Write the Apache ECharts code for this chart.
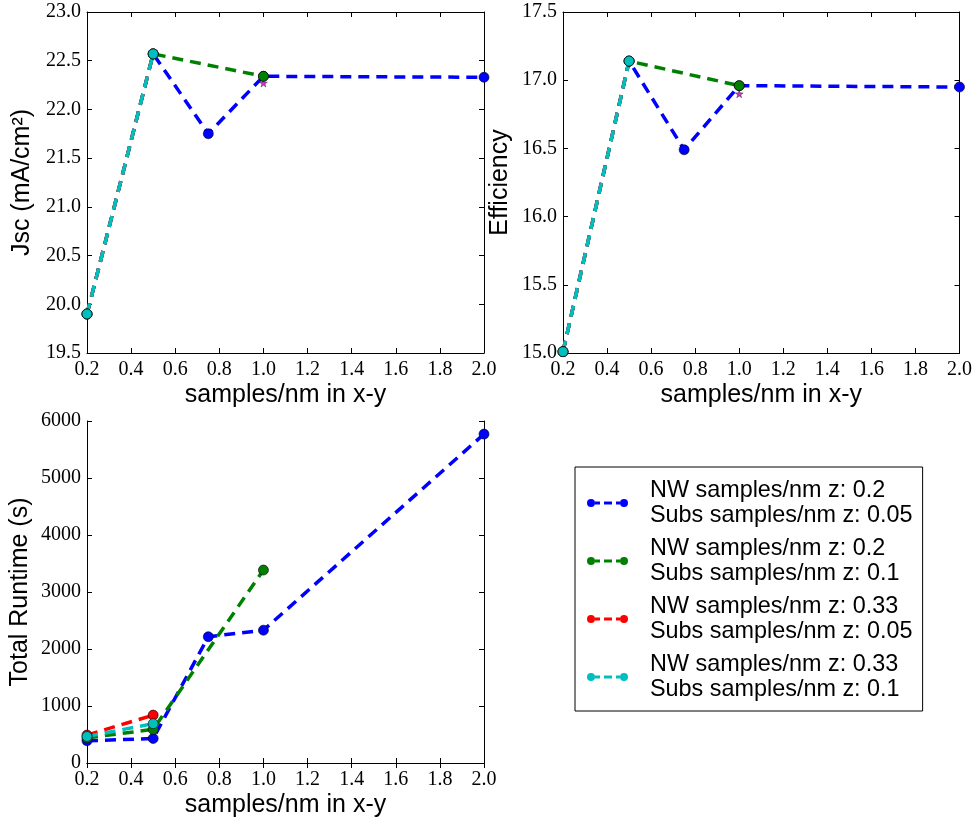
<!DOCTYPE html>
<html>
<head>
<meta charset="utf-8">
<script src="https://cdn.jsdelivr.net/npm/echarts@6/dist/echarts.min.js"></script>
<style>
html,body{margin:0;padding:0;background:#fff;}
#chart{width:975px;height:821px;}
</style>
</head>
<body>
<div id="chart"></div>
<script>
// ---- data ----
const seriesNames = [
  'NW samples/nm z: 0.2\nSubs samples/nm z: 0.05',
  'NW samples/nm z: 0.2\nSubs samples/nm z: 0.1',
  'NW samples/nm z: 0.33\nSubs samples/nm z: 0.05',
  'NW samples/nm z: 0.33\nSubs samples/nm z: 0.1'
];
const xBlue  = [0.2, 0.5, 0.75, 1.0, 2.0];
const xGreen = [0.2, 0.5, 1.0];
const xRed   = [0.2, 0.5];
const xCyan  = [0.2, 0.5];

const jscBlue  = [19.90, 22.57, 21.75, 22.34, 22.33];
const jscGreen = [19.90, 22.57, 22.34];
const jscRed   = [19.90, 22.57];
const jscCyan  = [19.90, 22.57];

const effBlue  = [15.01, 17.14, 16.49, 16.96, 16.95];
const effGreen = [15.01, 17.14, 16.96];
const effRed   = [15.01, 17.14];
const effCyan  = [15.01, 17.14];

const rtBlue  = [390, 430, 2215, 2330, 5770];
const rtGreen = [440, 590, 3385];
const rtRed   = [490, 840];
const rtCyan  = [465, 690];

const starX   = [1.0];
const starJsc = [22.27];
const starEff = [16.90];

const xTicksMin = 0.2, xTicksMax = 2.0, xTickStep = 0.2;

// ---- styling ----
const colors = ['#0000ff', '#008000', '#ff0000', '#00bfbf'];
const starColor = '#bf00bf';
const tickFont = { fontFamily: 'Liberation Serif', fontSize: 20, color: '#000' };
const nameFont = { fontFamily: 'Liberation Sans', fontSize: 25, color: '#000' };

const zip = (xs, ys) => xs.map((x, i) => [x, ys[i]]);

const grids = [
  { left: 87, top: 12, width: 397, height: 341 },
  { left: 563, top: 12, width: 397, height: 341 },
  { left: 87, top: 421, width: 397, height: 342 }
];

const xAxes = [];
const yAxes = [];
const axisLineStyle = { show: true, lineStyle: { color: '#000', width: 1 } };
const tickStyle = { show: true, inside: true, length: 5, lineStyle: { color: '#000', width: 1 } };

const yDefs = [
  { name: 'Jsc (mA/cm²)', min: 19.5, max: 23.0, interval: 0.5, dec: 1, gap: 52 },
  { name: 'Efficiency', min: 15.0, max: 17.5, interval: 0.5, dec: 1, gap: 50 },
  { name: 'Total Runtime (s)', min: 0, max: 6000, interval: 1000, dec: 0, gap: 54 }
];

for (let g = 0; g < 3; g++) {
  xAxes.push({
    type: 'value', gridIndex: g, position: 'bottom',
    min: xTicksMin, max: xTicksMax, interval: xTickStep,
    name: 'samples/nm in x-y', nameLocation: 'middle', nameGap: 30,
    nameTextStyle: nameFont,
    axisLine: axisLineStyle, axisTick: tickStyle, splitLine: { show: false },
    axisLabel: Object.assign({ margin: 7, formatter: v => v.toFixed(1) }, tickFont)
  });
  xAxes.push({
    type: 'value', gridIndex: g, position: 'top',
    min: xTicksMin, max: xTicksMax, interval: xTickStep,
    axisLine: axisLineStyle, axisTick: tickStyle, splitLine: { show: false },
    axisLabel: { show: false }
  });
  const d = yDefs[g];
  yAxes.push({
    type: 'value', gridIndex: g, position: 'left',
    min: d.min, max: d.max, interval: d.interval,
    name: d.name, nameLocation: 'middle', nameGap: d.gap,
    nameTextStyle: nameFont,
    axisLine: axisLineStyle, axisTick: tickStyle, splitLine: { show: false },
    axisLabel: Object.assign({ margin: 6, formatter: v => v.toFixed(d.dec) }, tickFont)
  });
  yAxes.push({
    type: 'value', gridIndex: g, position: 'right',
    min: d.min, max: d.max, interval: d.interval,
    axisLine: axisLineStyle, axisTick: tickStyle, splitLine: { show: false },
    axisLabel: { show: false }
  });
}

function lineSeries(name, color, g, xs, ys) {
  return {
    type: 'line', name: name, xAxisIndex: g * 2, yAxisIndex: g * 2,
    data: zip(xs, ys), color: color,
    symbol: 'circle', symbolSize: 10, showSymbol: true,
    lineStyle: { color: color, width: 3.5, type: [11, 7] },
    itemStyle: { color: color, borderColor: '#000', borderWidth: 0.6 },
    clip: true, animation: false
  };
}

const starPath = 'path://M0,-10 L2.35,-3.24 L9.51,-3.09 L3.8,1.24 L5.88,8.09 L0,4 L-5.88,8.09 L-3.8,1.24 L-9.51,-3.09 L-2.35,-3.24 Z';
function starSeries(g, xs, ys) {
  return {
    type: 'scatter', name: 'star', xAxisIndex: g * 2, yAxisIndex: g * 2,
    data: zip(xs, ys), symbol: starPath, symbolSize: 8, z: 1,
    itemStyle: { color: starColor, borderColor: '#000', borderWidth: 0.4 },
    animation: false
  };
}

const series = [];
const groups = [
  [xBlue, jscBlue, xGreen, jscGreen, xRed, jscRed, xCyan, jscCyan],
  [xBlue, effBlue, xGreen, effGreen, xRed, effRed, xCyan, effCyan],
  [xBlue, rtBlue, xGreen, rtGreen, xRed, rtRed, xCyan, rtCyan]
];
series.push(starSeries(0, starX, starJsc));
series.push(starSeries(1, starX, starEff));
for (let g = 0; g < 3; g++) {
  const a = groups[g];
  for (let k = 0; k < 4; k++) {
    series.push(lineSeries(seriesNames[k], colors[k], g, a[2 * k], a[2 * k + 1]));
  }
}

const legendIcon = 'path://M0,5 A4,4 0 1,1 8,5 A4,4 0 1,1 0,5 Z M8,3.5 L13,3.5 L13,6.5 L8,6.5 Z M17,3.5 L25,3.5 L25,6.5 L17,6.5 Z M29,3.5 L33,3.5 L33,6.5 L29,6.5 Z M33,5 A4,4 0 1,1 41,5 A4,4 0 1,1 33,5 Z';

const option = {
  backgroundColor: '#fff',
  animation: false,
  grid: grids,
  xAxis: xAxes,
  yAxis: yAxes,
  legend: {
    data: seriesNames,
    orient: 'vertical',
    left: 575, top: 467,
    backgroundColor: '#fff',
    borderColor: '#000', borderWidth: 1,
    padding: [11, 10, 9, 12],
    itemGap: 8,
    itemWidth: 41, itemHeight: 10,
    icon: legendIcon,
    itemStyle: { borderWidth: 0 },
    selectedMode: false,
    textStyle: { fontFamily: 'Liberation Sans', fontSize: 23.4, lineHeight: 25, color: '#000', padding: [0, 0, 0, 17] }
  },
  series: series
};

const chart = echarts.init(document.getElementById('chart'), null, { renderer: 'canvas' });
chart.setOption(option);
</script>
</body>
</html>
